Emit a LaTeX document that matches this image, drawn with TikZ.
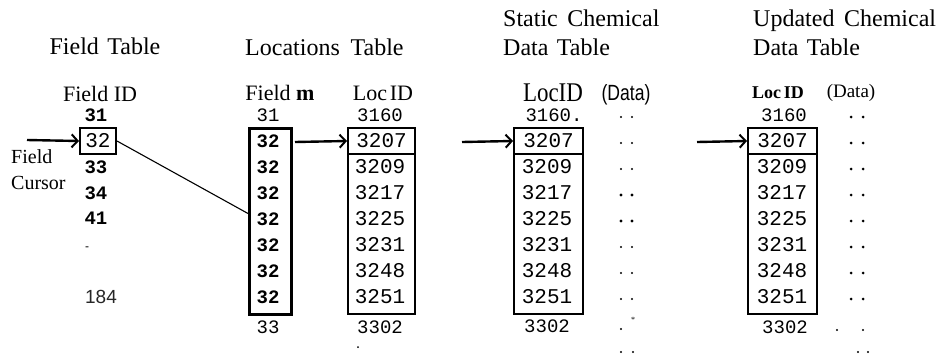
\documentclass[tikz,border=0pt]{standalone}
\usepackage{graphicx}
\usepackage{fontspec}
\setmainfont{Liberation Serif}
\setsansfont{Liberation Sans}
\setmonofont{Liberation Mono}
\usetikzlibrary{arrows.meta}

\tikzset{
  title/.style={font=\fontsize{24}{29}\selectfont, inner sep=0pt, align=left},
  colhead/.style={font=\fontsize{22}{24}\selectfont, inner sep=0pt},
  num/.style={font=\ttfamily\fontsize{21}{21}\selectfont, inner sep=0pt},
  numsm/.style={font=\ttfamily\fontsize{19}{19}\selectfont, inner sep=0pt},
  numbold/.style={font=\ttfamily\bfseries\fontsize{19}{19}\selectfont, inner sep=0pt},
  tablebox/.style={draw, line width=2pt, inner sep=0pt, minimum height=186pt},
  cellbox/.style={draw, line width=2pt, inner sep=0pt, minimum height=26pt,
    font=\ttfamily\fontsize{21}{21}\selectfont},
  pointer/.style={line width=2.4pt,
    -{Straight Barb[length=6pt,width=13pt,line width=2pt]}},
  link/.style={line width=1.1pt},
}

\begin{document}
\begin{tikzpicture}[x=1pt,y=-1pt]
\useasboundingbox (0,0) rectangle (936,357);

% ---------------- titles ----------------
\node[title, anchor=center] (tfield) at (105,46) {Field\hspace{0.35em}Table};
\node[title, anchor=west] (tloc) at (245,47) {Locations\hspace{0.45em}Table};
\node[title, anchor=west] (tstatic) at (503,32.5)
  {Static\hspace{0.4em}Chemical\\Data\hspace{0.35em}Table};
\node[title, anchor=west] (tupd) at (753,32.5)
  {Updated\hspace{0.4em}Chemical\\Data\hspace{0.35em}Table};

% ---------------- Field table ----------------
\node[colhead] (hfid) at (100,94) {Field ID};
\node[numbold] (f31) at (96,115) {31};
\node[cellbox, minimum width=36pt, anchor=north west] (fld32) at (79,127) {32};
\node[numbold] (f33) at (96,167) {33};
\node[numbold] (f34) at (96,193) {34};
\node[numbold] (f41) at (96,218) {41};
\node[font=\sffamily\fontsize{12}{12}\selectfont, inner sep=0pt] (fdash) at (87,249) {-};
\node[font=\sffamily\fontsize{19}{19}\selectfont, inner sep=0pt, text=black!85] (f184) at (101,297) {184};

\node[title, font=\fontsize{20}{26}\selectfont, anchor=west] (fcur) at (11,170)
  {Field\\Cursor};
\coordinate (cursstart) at (27,140);
\draw[pointer] (cursstart) -- (fld32.west);

% ---------------- Locations table ----------------
\node[colhead] (hfm) at (280,93) {Field \textbf{m}};
\node[colhead] (hlid) at (383,93) {Loc\hspace{0.12em}ID};

\node[numsm] (l31) at (268,115) {31};
\node[tablebox, line width=3pt, minimum width=42pt, anchor=north west] (fmbox) at (248,127) {};
\foreach \i in {1,...,7} {
  \node[num, font=\ttfamily\bfseries\fontsize{19}{19}\selectfont] (fm\i) at (268,{141+26*(\i-1)}) {32};
}
\node[numsm] (l33) at (268,327) {33};

\node[numsm] (l3160) at (380,115) {3160};
\node[tablebox, minimum width=67pt, anchor=north west] (locbox) at (347,127) {};
\node[cellbox, minimum width=67pt, anchor=north west] (loc1) at (347,127) {3207};
\foreach \v [count=\i from 2] in {3209,3217,3225,3231,3248,3251} {
  \node[num] (loc\i) at (380,{141+26*(\i-1)}) {\v};
}
\node[numsm] (l3302) at (380,327) {3302};
\fill (358,347) circle (1pt);

\draw[link] (fld32.east) -- ([yshift=8pt]fmbox.west);
\coordinate (fmstart) at (295,142);
\draw[pointer] (fmstart) -- (loc1.west);

% ---------------- Static chemical data table ----------------
\node[font=\fontsize{27}{28}\selectfont, inner sep=0pt] (hslid) at (553,93)
  {\scalebox{0.85}[1]{LocID}};
\node[font=\sffamily\fontsize{22}{24}\selectfont, inner sep=0pt] (hsdata) at (626,95)
  {\scalebox{0.8}[1]{(Data)}};
\node[numsm] (s3160) at (554,115) {3160.};
\node[tablebox, minimum width=69pt, anchor=north west] (sbox) at (513,127) {};
\node[cellbox, minimum width=69pt, anchor=north west] (s1) at (513,127) {3207};
\foreach \v [count=\i from 2] in {3209,3217,3225,3231,3248,3251} {
  \node[num] (s\i) at (547,{141+26*(\i-1)}) {\v};
}
\node[numsm] (s3302) at (547,326) {3302};
\coordinate (sstart) at (462,142);
\draw[pointer] (sstart) -- (s1.west);

% data dots of the static table
\foreach \r in {0,1,2,5,6,7} {
  \fill (621,{117+26*\r}) circle (1.1pt);
  \fill (632,{117+26*\r}) circle (1.1pt);
}
\foreach \r in {3,4} {
  \fill (621,{117+26*\r}) circle (1.6pt);
  \fill (632,{117+26*\r}) circle (1.6pt);
}
\fill (621,329) circle (1.1pt);
\node[font=\fontsize{8}{8}\selectfont, inner sep=0pt] (sstar) at (633,320) {*};
\fill (621,352) circle (1.1pt);
\fill (633,352) circle (1.1pt);

% ---------------- Updated chemical data table ----------------
\node[font=\bfseries\fontsize{18}{20}\selectfont, inner sep=0pt] (hulid) at (778,93) {Loc\hspace{0.15em}ID};
\node[font=\fontsize{19}{21}\selectfont, inner sep=0pt] (hudata) at (851,93) {(Data)};
\node[numsm] (u3160) at (784,115) {3160};
\node[tablebox, minimum width=69pt, anchor=north west] (ubox) at (747,127) {};
\node[cellbox, minimum width=69pt, anchor=north west] (u1) at (747,127) {3207};
\foreach \v [count=\i from 2] in {3209,3217,3225,3231,3248,3251} {
  \node[num] (u\i) at (782,{141+26*(\i-1)}) {\v};
}
\node[numsm] (u3302) at (785,327) {3302};
\coordinate (ustart) at (697,142);
\draw[pointer] (ustart) -- (u1.west);

% data dots of the updated table
\foreach \r in {0,...,7} {
  \fill (851,{117+26*\r}) circle (1.5pt);
  \fill (863,{117+26*\r}) circle (1.5pt);
}
\fill (837,330) circle (1.2pt);
\fill (863,330) circle (1.2pt);
\fill (858,352) circle (1.1pt);
\fill (868,352) circle (1.1pt);
\end{tikzpicture}
\end{document}
